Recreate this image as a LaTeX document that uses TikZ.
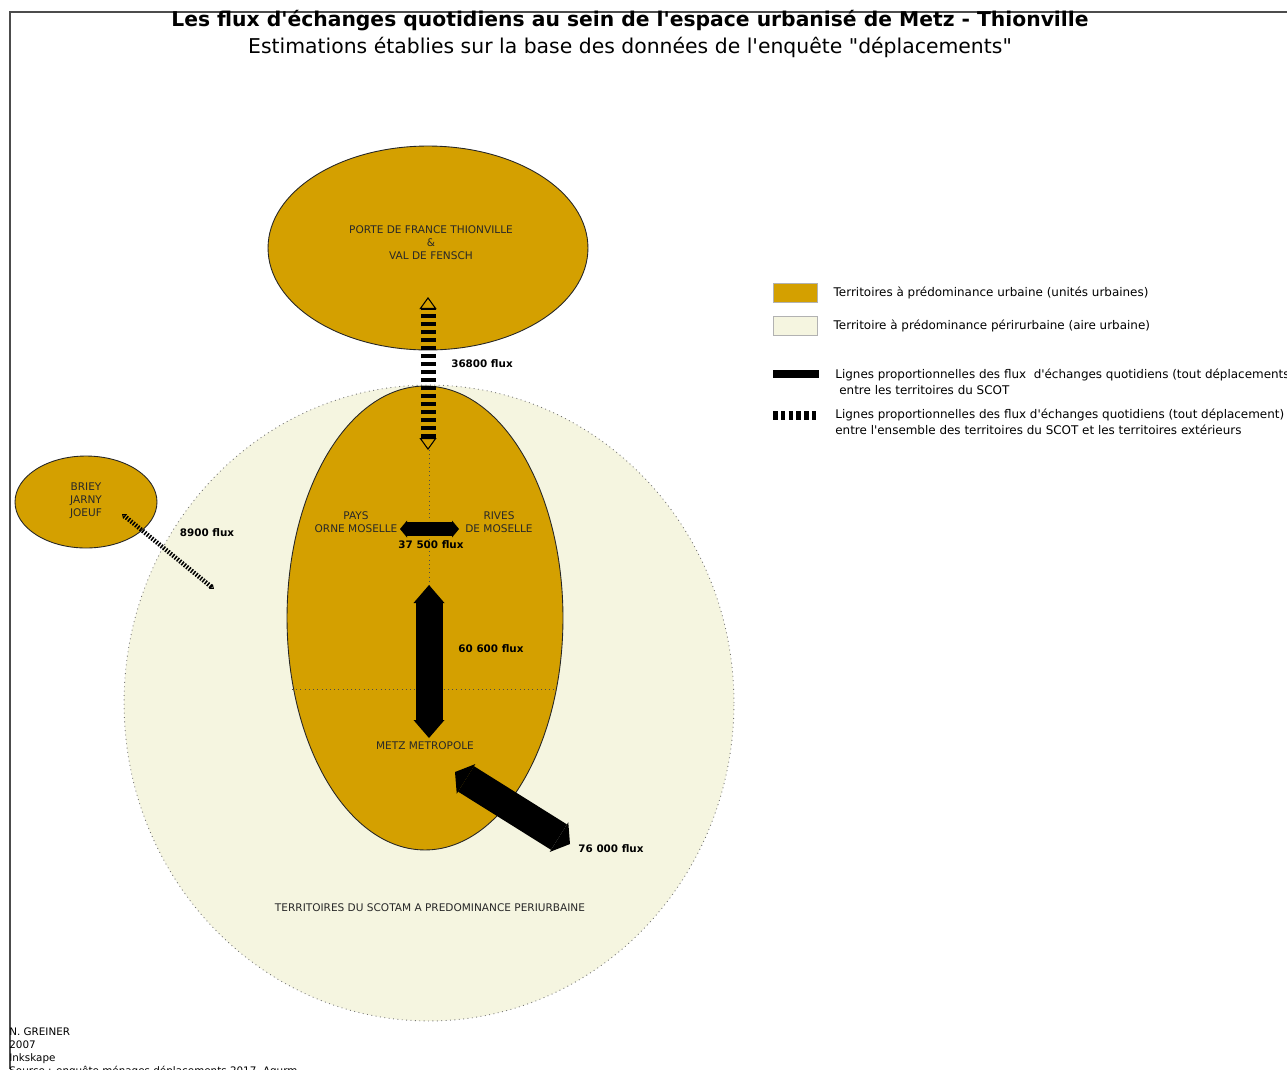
\documentclass[tikz,border=0pt]{standalone}
\usepackage{fontspec}
\setmainfont{DejaVu Sans}[Ligatures=TeXOff]
\usetikzlibrary{shapes.geometric, arrows.meta, positioning}
\definecolor{urbgold}{RGB}{212, 160, 0}
\definecolor{periurb}{RGB}{245, 245, 224}
\definecolor{labelgray}{RGB}{40, 40, 40}

\begin{document}
\begin{tikzpicture}[
    x=0.02cm, y=-0.02cm,
    urbzone/.style={ellipse, draw=black!85, line width=0.5pt, fill=urbgold, inner sep=0pt},
    perizone/.style={ellipse, draw=black!55, dotted, line width=0.5pt, fill=periurb, inner sep=0pt},
    zonelabel/.style={font=\fontsize{6}{7.4}\selectfont, text=labelgray, align=center, inner sep=0pt},
    fluxlabel/.style={font=\fontsize{5.9}{7}\selectfont\bfseries, inner sep=0pt},
    legendtext/.style={font=\fontsize{6.8}{9}\selectfont, anchor=west, align=left, inner sep=0pt},
    legbox/.style={rectangle, draw=black!30, line width=0.4pt, minimum width=0.88cm, minimum height=0.38cm, inner sep=0pt},
    divline/.style={dotted, black!70, line width=0.4pt},
    intflow/.style n args={3}{line width=#1,
        {Triangle[line width=0pt, length=#2 0 0, width=#3 0 0]}-{Triangle[line width=0pt, length=#2 0 0, width=#3 0 0]}},
    extflow/.style n args={4}{line width=#1, dash pattern=on #2 off #2,
        {Triangle[open, line width=0.6pt, length=#3 0 0, width=#4 0 0]}-{Triangle[open, line width=0.6pt, length=#3 0 0, width=#4 0 0]}}
]
\clip (0,0) rectangle (1287,1069);
\fill[white] (0,0) rectangle (1287,1069);

% Frame
\draw[black!70, line width=1pt] (10,1069) -- (10,12) -- (1287,12);

% Title
\node[font=\fontsize{11.55}{13}\selectfont\bfseries] (title) at (630,21) {Les flux d'échanges quotidiens au sein de l'espace urbanisé de Metz - Thionville};
\node[font=\fontsize{11.6}{13}\selectfont] (subtitle) at (630,47) {Estimations établies sur la base des données de l'enquête "déplacements"};

% Territories
\node[perizone, minimum width=12.2cm, minimum height=12.72cm] (scotam) at (429,703) {};
\node[urbzone, minimum width=5.52cm, minimum height=9.28cm] (metzurb) at (425,618) {};
\node[urbzone, minimum width=6.4cm, minimum height=4.08cm] (thio) at (428,248) {};
\node[urbzone, minimum width=2.84cm, minimum height=1.84cm] (briey) at (86,502) {};

% Dividing lines
\draw[divline] (429,450) -- (429,585);
\draw[divline] (292,689) -- (557,689);

% Territory names
\node[zonelabel] (thiolbl) at (431,243) {PORTE DE FRANCE THIONVILLE\\\&\\VAL DE FENSCH};
\node[zonelabel] (brieylbl) at (86,501) {BRIEY\\JARNY\\JOEUF};
\node[zonelabel] (payslbl) at (356,522) {PAYS\\ORNE MOSELLE};
\node[zonelabel] (riveslbl) at (499,522) {RIVES\\DE MOSELLE};
\node[zonelabel] (metzlbl) at (425,746) {METZ METROPOLE};
\node[zonelabel] (scotamlbl) at (430,908) {TERRITOIRES DU SCOTAM A PREDOMINANCE PERIURBAINE};

% Flow ends
\coordinate (thioend) at (428,297);
\coordinate (metznorth) at (428,450);
\coordinate (payend) at (400,529);
\coordinate (rivend) at (459,529);
\coordinate (centtop) at (429,585);
\coordinate (centbot) at (429,738);
\coordinate (metzout) at (455,772);
\coordinate (periend) at (570,844);
\coordinate (brieyend) at (122,514);
\coordinate (scotend) at (214,589);

% Flows
\draw[extflow={0.3cm}{0.08cm}{0.24cm}{0.34cm}] (metznorth) -- (thioend);
\draw[extflow={0.09cm}{0.03cm}{0.08cm}{0.12cm}] (scotend) -- (brieyend);
\draw[intflow={0.28cm}{0.14cm}{0.34cm}] (payend) -- (rivend);
\draw[intflow={0.54cm}{0.36cm}{0.62cm}] (centtop) -- (centbot);
\draw[intflow={0.6cm}{0.26cm}{0.7cm}] (metzout) -- (periend);

% Flow values
\node[fluxlabel] (fluxthio) at (482,364) {36800 flux};
\node[fluxlabel] (fluxbriey) at (207,533) {8900 flux};
\node[fluxlabel] (fluxpays) at (431,545) {37 500 flux};
\node[fluxlabel] (fluxcent) at (491,649) {60 600 flux};
\node[fluxlabel] (fluxperi) at (611,849) {76 000 flux};

% Legend
\node[legbox, fill=urbgold] (legurb) at (795,292.5) {};
\node[legendtext, right=0.32cm of legurb] (legurbtxt) {Territoires à prédominance urbaine (unités urbaines)};
\node[legbox, fill=periurb] (legperi) at (795,325.5) {};
\node[legendtext, right=0.32cm of legperi] (legperitxt) {Territoire à prédominance périrurbaine (aire urbaine)};
\coordinate (legintA) at (773,374);
\coordinate (legintB) at (819,374);
\draw[line width=0.16cm] (legintA) -- (legintB);
\node[legendtext] (leginttxt) at (835,381.5) {Lignes proportionnelles des flux~ d'échanges quotidiens (tout déplacements)\\\hspace{0.08cm}entre les territoires du SCOT};
\coordinate (legextA) at (773,415.5);
\coordinate (legextB) at (819,415.5);
\draw[line width=0.18cm, dash pattern=on 0.09cm off 0.065cm] (legextA) -- (legextB);
\node[legendtext] (legexttxt) at (835,422) {Lignes proportionnelles des flux d'échanges quotidiens (tout déplacement)\\entre l'ensemble des territoires du SCOT et les territoires extérieurs};

% Credits
\node[font=\fontsize{5.9}{7.4}\selectfont, anchor=north west, align=left, inner sep=0pt] (credits) at (9,1027) {N. GREINER\\2007\\Inkskape\\Source : enquête ménages déplacements 2017, Agurm};

\end{tikzpicture}
\end{document}
